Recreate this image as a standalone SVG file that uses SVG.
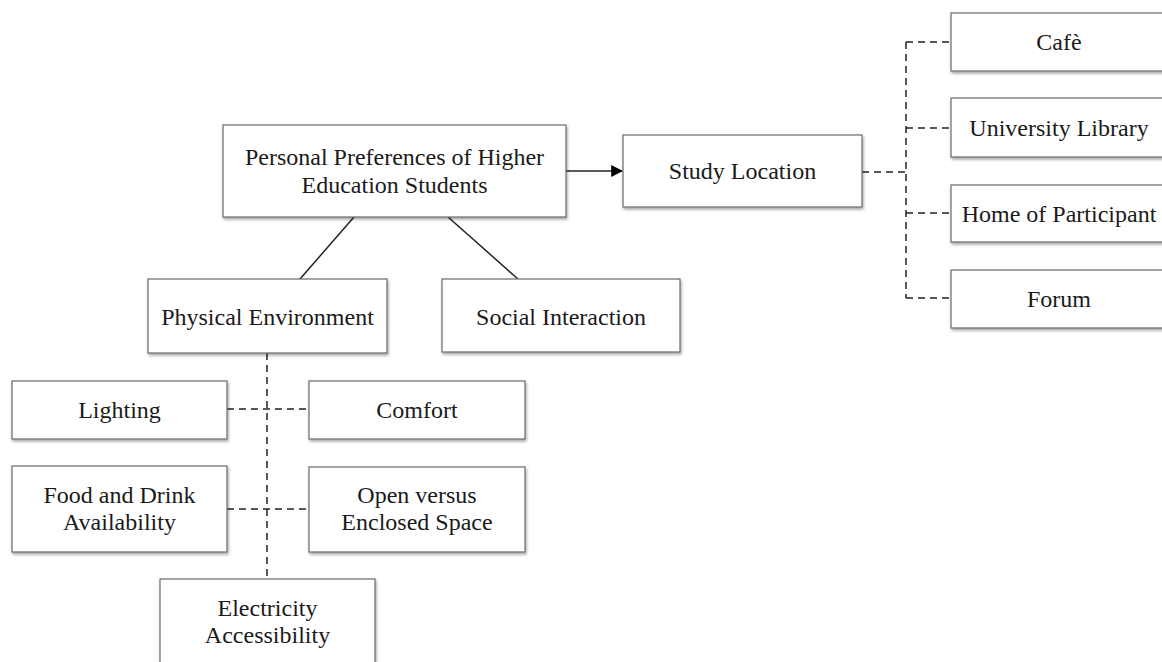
<svg xmlns="http://www.w3.org/2000/svg" width="1162" height="662" viewBox="0 0 1162 662">
<defs>
<filter id="sh" x="-10%" y="-10%" width="125%" height="140%">
<feDropShadow dx="1" dy="2" stdDeviation="1.5" flood-color="#000" flood-opacity="0.35"/>
</filter>
<marker id="ah" viewBox="0 0 10 10" refX="9" refY="5" markerWidth="12" markerHeight="12" markerUnits="userSpaceOnUse" orient="auto">
<path d="M0,0 L10,5 L0,10 Z" fill="#000"/>
</marker>
<style>
.box{fill:#fff;stroke:#6a6a6a;stroke-width:1.2;filter:url(#sh)}
.t{font-family:"Liberation Serif","Times New Roman",serif;font-size:24px;fill:#1a1a1a;text-anchor:middle}
.ln{stroke:#222;stroke-width:1.5;fill:none}
.dsh{stroke:#222;stroke-width:1.5;fill:none;stroke-dasharray:7 5}
</style>
</defs>
<rect width="1162" height="662" fill="#fff"/>
<g id="connectors">
<line class="ln" x1="354" y1="217" x2="300" y2="279"/>
<line class="ln" x1="448" y1="217" x2="518" y2="279"/>
<line class="ln" x1="566" y1="171" x2="622" y2="171" stroke-width="2.2" marker-end="url(#ah)"/>
<line class="dsh" x1="862" y1="172" x2="906" y2="172"/>
<line class="dsh" x1="906" y1="42" x2="906" y2="298"/>
<line class="dsh" x1="906" y1="42" x2="951" y2="42"/>
<line class="dsh" x1="906" y1="128" x2="951" y2="128"/>
<line class="dsh" x1="906" y1="213" x2="951" y2="213"/>
<line class="dsh" x1="906" y1="298" x2="951" y2="298"/>
<line class="dsh" x1="267" y1="353" x2="267" y2="579"/>
<line class="dsh" x1="227" y1="409" x2="309" y2="409"/>
<line class="dsh" x1="227" y1="509" x2="309" y2="509"/>
</g>
<g id="n-main"><rect class="box" x="223" y="125" width="343" height="92"/><text class="t" x="394.5" y="165">Personal Preferences of Higher</text><text class="t" x="394.5" y="193">Education Students</text></g>
<g id="n-study"><rect class="box" x="623" y="135" width="239" height="72"/><text class="t" x="742.5" y="179">Study Location</text></g>
<g id="n-cafe"><rect class="box" x="951" y="13" width="216" height="58"/><text class="t" x="1059" y="50">Cafè</text></g>
<g id="n-library"><rect class="box" x="951" y="98" width="216" height="59"/><text class="t" x="1059" y="136">University Library</text></g>
<g id="n-home"><rect class="box" x="951" y="185" width="216" height="57"/><text class="t" x="1059" y="222">Home of Participant</text></g>
<g id="n-forum"><rect class="box" x="951" y="270" width="216" height="58"/><text class="t" x="1059" y="307">Forum</text></g>
<g id="n-physical"><rect class="box" x="148" y="279" width="239" height="74"/><text class="t" x="267.5" y="325">Physical Environment</text></g>
<g id="n-social"><rect class="box" x="442" y="279" width="238" height="73"/><text class="t" x="561" y="325">Social Interaction</text></g>
<g id="n-lighting"><rect class="box" x="12" y="381" width="215" height="58"/><text class="t" x="119.5" y="418">Lighting</text></g>
<g id="n-comfort"><rect class="box" x="309" y="381" width="216" height="58"/><text class="t" x="417" y="418">Comfort</text></g>
<g id="n-food"><rect class="box" x="12" y="466" width="215" height="86"/><text class="t" x="119.5" y="503">Food and Drink</text><text class="t" x="119.5" y="530">Availability</text></g>
<g id="n-open"><rect class="box" x="309" y="467" width="216" height="85"/><text class="t" x="417" y="503">Open versus</text><text class="t" x="417" y="530">Enclosed Space</text></g>
<g id="n-electricity"><rect class="box" x="160" y="579" width="215" height="100"/><text class="t" x="267.5" y="616">Electricity</text><text class="t" x="267.5" y="643">Accessibility</text></g>
</svg>
